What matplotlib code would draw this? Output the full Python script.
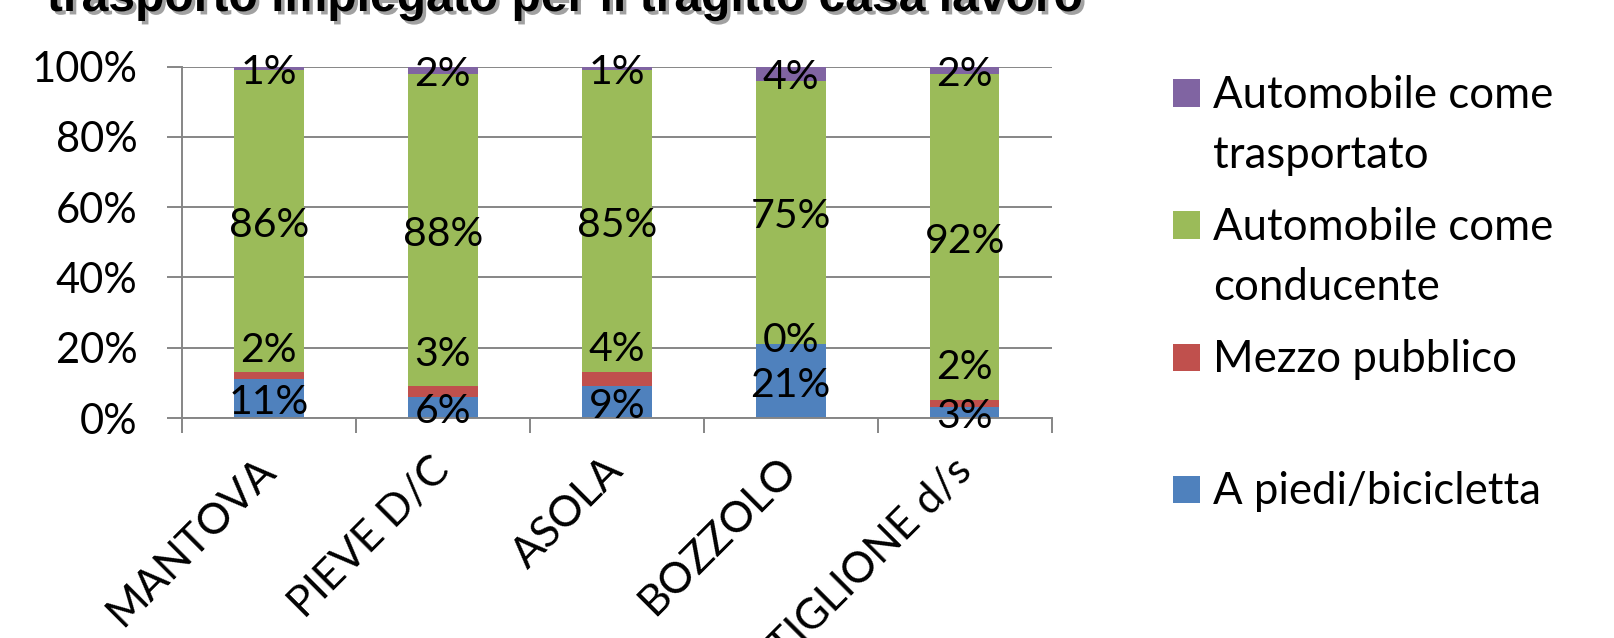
import numpy as np
import matplotlib
matplotlib.use("Agg")
import matplotlib.pyplot as plt
from matplotlib.patches import Rectangle
import matplotlib.patheffects as pe

# ---- data -------------------------------------------------------------
categories = ["MANTOVA", "PIEVE D/C", "ASOLA", "BOZZOLO", "CASTIGLIONE d/s"]
series_names = [
    "A piedi/bicicletta",
    "Mezzo pubblico",
    "Automobile come conducente",
    "Automobile come trasportato",
]
a_piedi = [11, 6, 9, 21, 3]
mezzo_pubblico = [2, 3, 4, 0, 2]
auto_conducente = [86, 88, 85, 75, 92]
auto_trasportato = [1, 2, 1, 4, 2]
y_ticks = [0, 20, 40, 60, 80, 100]
title = "trasporto impiegato per il tragitto casa lavoro"

# ---- style ------------------------------------------------------------
colors = ["#4F81BD", "#C0504D", "#9BBB59", "#8064A2"]
grid_color = "#868686"
FONT = "Lato"
W, H = 1614, 638
plt.rcParams["font.family"] = [FONT, "DejaVu Sans"]

# label heights for the public transport series (placed above their thin segments)
red_label_y = [20.3, 19.2, 20.7, 23.3, 15.6]

fig = plt.figure(figsize=(W / 100, H / 100), dpi=100)
ax = fig.add_axes([181.7 / W, 1 - 418 / H, (1051.7 - 181.7) / W, (418 - 66.7) / H])

series = [a_piedi, mezzo_pubblico, auto_conducente, auto_trasportato]
data = np.array(series, dtype=float)
totals = data.sum(axis=0)
shares = data / totals * 100.0

x = np.arange(len(categories))
bottom = np.zeros(len(categories))
centers = []
for vals, col in zip(shares, colors):
    ax.bar(x, vals, width=0.4, bottom=bottom, color=col, linewidth=0, zorder=2)
    centers.append(bottom + vals / 2)
    bottom = bottom + vals

label_fs = 29.5
for si, raw in enumerate(series):
    for i, v in enumerate(raw):
        y = red_label_y[i] if si == 1 else centers[si][i]
        ax.annotate(f"{v}%", (x[i], y), xytext=(0, -3), textcoords="offset points",
                    ha="center", va="center", fontsize=label_fs,
                    color="black", zorder=5, annotation_clip=False)

# axes, grid and ticks
ax.set_xlim(-0.5, len(categories) - 0.5)
ax.set_ylim(0, 100)
ax.set_yticks(y_ticks)
ax.set_yticklabels([f"{t}%" for t in y_ticks], fontsize=30)
ax.yaxis.grid(True, color=grid_color, linewidth=1.4, zorder=0)
ax.set_axisbelow(True)
for s in ["top", "right"]:
    ax.spines[s].set_visible(False)
for s in ["left", "bottom"]:
    ax.spines[s].set_color(grid_color)
    ax.spines[s].set_linewidth(1.4)
ax.tick_params(axis="y", length=10.8, width=1.4, color=grid_color, pad=21)

ax.set_xticks(np.arange(len(categories) + 1) - 0.5)
ax.set_xticklabels([])
ax.tick_params(axis="x", which="major", length=10.8, width=1.4, color=grid_color)
ax.set_xticks(x, minor=True)
ax.set_xticklabels(categories, minor=True, fontsize=31, rotation=45,
                   ha="right", va="center", rotation_mode="anchor")
ax.tick_params(axis="x", which="minor", length=0, pad=33)

# title, partly above the top edge
fig.text(565 / W, 1 - 11 / H, title, ha="center", va="baseline",
         fontsize=34.6, fontweight="bold", family="Liberation Sans",
         color="black",
         path_effects=[pe.SimplePatchShadow(offset=(2.5, -2.5),
                                            shadow_rgbFace="#555555", alpha=0.55),
                       pe.Normal()])

# legend
legend_rows = [
    (colors[3], ["Automobile come", "trasportato"], 93),
    (colors[2], ["Automobile come", "conducente"], 225),
    (colors[1], ["Mezzo pubblico"], 357),
    (colors[0], ["A piedi/bicicletta"], 489),
]
sq = 27
for col, lines, cy in legend_rows:
    fig.add_artist(Rectangle((1173 / W, 1 - (cy + sq / 2) / H), sq / W, sq / H,
                             transform=fig.transFigure, color=col, linewidth=0))
    for li, line in enumerate(lines):
        fig.text(1213 / W, 1 - (cy + 15 + 60 * li) / H, line, ha="left",
                 va="baseline", fontsize=31.5, color="black")

fig.savefig("out.png", dpi=100)
